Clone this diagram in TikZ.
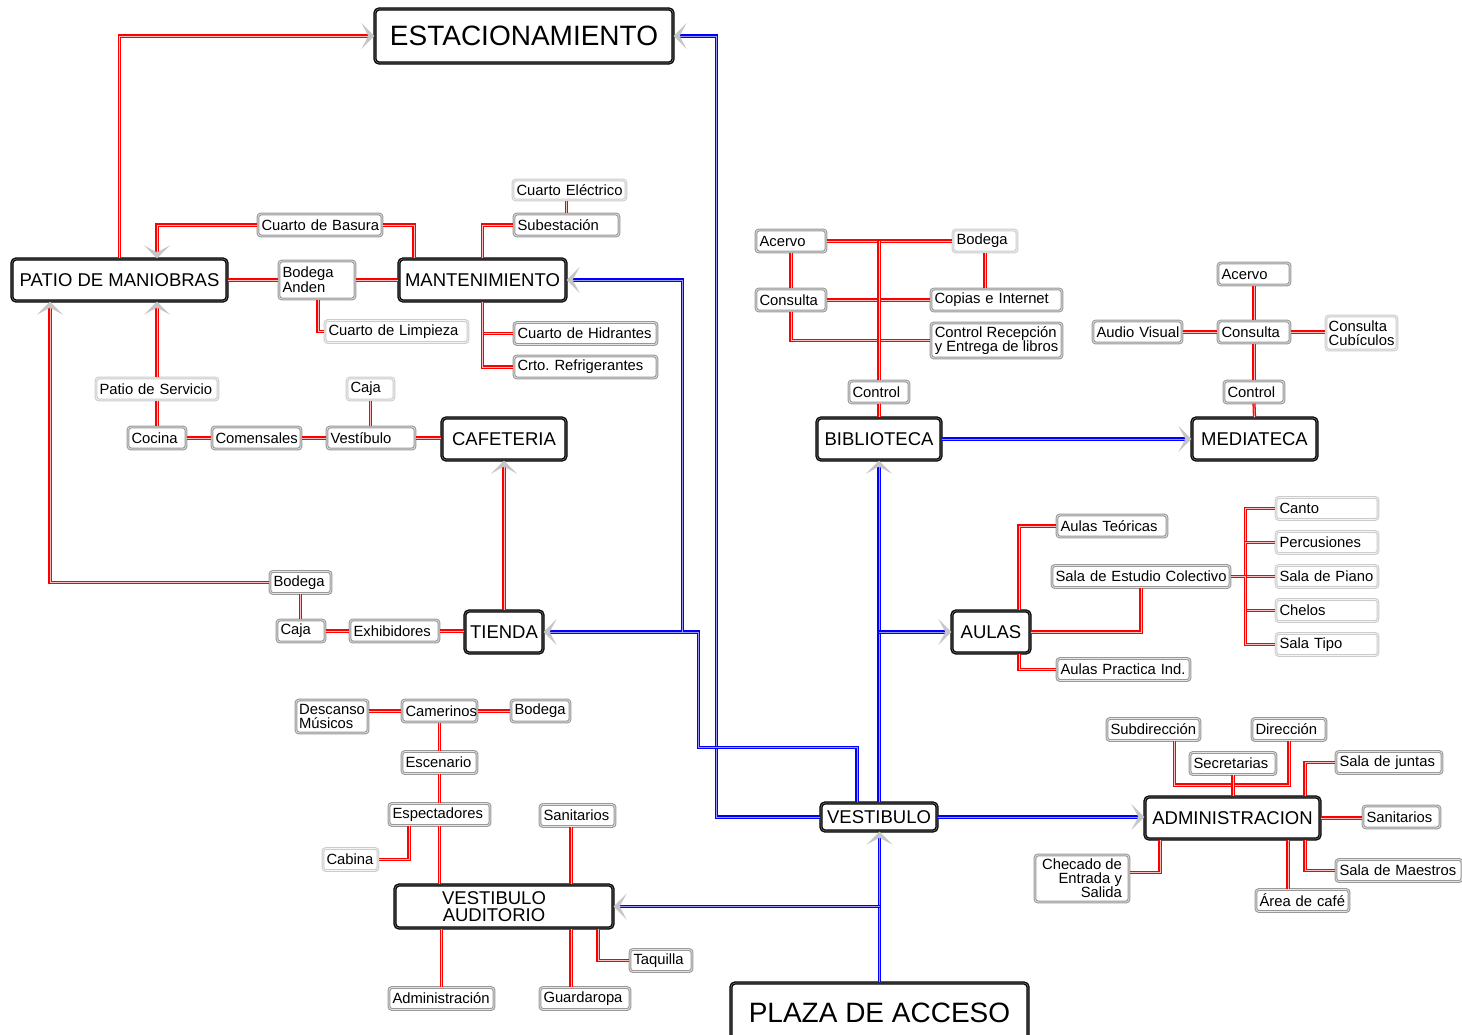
\documentclass[tikz,border=0pt]{standalone}
\usepackage{fontspec}
\setmainfont{Liberation Sans}
\usetikzlibrary{arrows.meta,calc}

\tikzset{
  mainbox/.style={draw=black,line width=1.3pt,double=black!50,double distance=0.6pt,rounded corners=4pt,fill=white,inner sep=2pt,minimum height=42pt,font=\fontsize{18.5}{17}\selectfont},
  bigbox/.style={mainbox,font=\fontsize{28}{30}\selectfont},
  subbox/.style={draw=gray!80,line width=1.1pt,double=gray!20,double distance=0.7pt,rounded corners=3pt,fill=white,inner sep=1.5pt,minimum height=22pt,font=\fontsize{14.8}{13.5}\selectfont},
  palebox/.style={subbox,draw=gray!40,double=gray!8},
  lw/.style={minimum width=#1,text width=#1-7pt,align=left,
    execute at begin node=\hbox\bgroup,execute at end node=\egroup},
  musicbox/.style={palebox,lw=102pt},
  rl/.style={draw=red,line width=1.3pt,double=red!25,double distance=0.6pt},
  bl/.style={draw=blue,line width=1.4pt,double=blue!40,double distance=0.6pt},
  tip/.style={-{Stealth[length=13pt,width=26pt,inset=7pt,gray!45]}},
}

\begin{document}
\begin{tikzpicture}[x=1pt,y=-1pt]
\useasboundingbox (0,0) rectangle (1462,1034);

% --- main areas ---
\node[bigbox,minimum width=298pt,minimum height=54pt] (estac) at (524,36) {ESTACIONAMIENTO};
\node[mainbox,minimum width=215pt] (patio) at (119.5,280) {PATIO DE MANIOBRAS};
\node[mainbox,minimum width=167pt] (mant) at (482.5,280) {MANTENIMIENTO};
\node[mainbox,minimum width=124pt] (cafe) at (504,439) {CAFETERIA};
\node[mainbox,minimum width=78pt] (tienda) at (504,632) {TIENDA};
\node[mainbox,minimum width=124pt] (biblio) at (879,439) {BIBLIOTECA};
\node[mainbox,minimum width=125pt] (media) at (1254.5,439) {MEDIATECA};
\node[mainbox,minimum width=78pt] (aulas) at (991,632) {AULAS};
\node[mainbox,minimum width=116pt,minimum height=28pt] (vest) at (879,817) {VESTIBULO};
\node[mainbox,minimum width=175pt] (admin) at (1232.5,818) {ADMINISTRACION};
\node[mainbox,minimum width=218pt,minimum height=43pt,align=center] (audit) at (504,906.5)
  {VESTIBULO\hspace*{20pt}\\AUDITORIO\hspace*{20pt}};
\node[bigbox,minimum width=297pt,minimum height=60pt] (plaza) at (879.5,1013) {PLAZA DE ACCESO};

% --- servicio / mantenimiento ---
\node[subbox,lw=124pt] (basura) at (320,225) {Cuarto de Basura};
\node[subbox,minimum width=76pt,text width=69pt,minimum height=38pt,align=left] (anden) at (317,280) {Bodega\\Anden};
\node[palebox,lw=143pt] (limpieza) at (396.5,331.5) {Cuarto de Limpieza};
\node[palebox,lw=113pt,minimum height=20pt] (elec) at (569.5,190) {Cuarto Eléctrico};
\node[subbox,lw=105pt] (subest) at (566.5,225) {Subestación};
\node[subbox,lw=143pt] (hidr) at (585.5,333.5) {Cuarto de Hidrantes};
\node[subbox,lw=143pt] (refr) at (585.5,367) {Crto.\ Refrigerantes};

% --- cafeteria / tienda ---
\node[palebox,lw=122pt] (servicio) at (157,389) {Patio de Servicio};
\node[palebox,lw=47pt] (cajac) at (370.5,389) {Caja};
\node[subbox,lw=58pt] (cocina) at (157,438) {Cocina};
\node[subbox,lw=89pt] (comens) at (256.5,438) {Comensales};
\node[subbox,lw=88pt] (vestib) at (371,438) {Vestíbulo};
\node[subbox,lw=61pt] (bodegat) at (300.5,582.5) {Bodega};
\node[subbox,lw=48pt] (cajat) at (301,631) {Caja};
\node[subbox,lw=89pt] (exhib) at (394.5,631) {Exhibidores};

% --- biblioteca ---
\node[subbox,lw=70pt] (acervob) at (791,241) {Acervo};
\node[palebox,lw=64pt] (bodegab) at (985,241) {Bodega};
\node[subbox,lw=70pt] (consultab) at (791,300) {Consulta};
\node[subbox,lw=131pt] (copias) at (996.5,300) {Copias e Internet};
\node[subbox,minimum width=131pt,minimum height=35pt,align=left] (recep) at (996.5,340.5) {Control Recepción\\y Entrega de libros};
\node[subbox,lw=60pt] (controlb) at (879,392) {Control};

% --- mediateca ---
\node[subbox,lw=72pt] (acervom) at (1254,274) {Acervo};
\node[subbox,lw=89pt] (audio) at (1137.5,332) {Audio Visual};
\node[subbox,lw=72pt] (consultam) at (1254,332) {Consulta};
\node[palebox,minimum width=71pt,minimum height=34pt,align=left] (cubic) at (1361.5,333) {Consulta\\Cubículos};
\node[subbox,lw=60pt] (controlm) at (1254,392) {Control};

% --- aulas ---
\node[subbox,lw=110pt] (teoricas) at (1112,526) {Aulas Teóricas};
\node[subbox,lw=178pt] (estudio) at (1141,576.5) {Sala de Estudio Colectivo};
\node[subbox,lw=133pt] (practica) at (1123.5,669.5) {Aulas Practica Ind.};
\node[musicbox] (canto) at (1327,508.5) {Canto};
\node[musicbox] (perc) at (1327,542.5) {Percusiones};
\node[musicbox] (piano) at (1327,576.5) {Sala de Piano};
\node[musicbox] (chelos) at (1327,610.5) {Chelos};
\node[musicbox] (stipo) at (1327,644.5) {Sala Tipo};

% --- auditorio ---
\node[subbox,minimum width=72pt,minimum height=33pt,align=left] (descanso) at (332,716.5) {Descanso\\Músicos};
\node[subbox,lw=75pt] (camer) at (439.5,711) {Camerinos};
\node[subbox,lw=59pt] (bodegaa) at (540.5,711) {Bodega};
\node[subbox,lw=75pt] (escen) at (439.5,762.5) {Escenario};
\node[subbox,lw=101pt] (espect) at (439.5,814.5) {Espectadores};
\node[subbox,lw=75pt] (sanita) at (577.5,815.5) {Sanitarios};
\node[palebox,lw=55pt] (cabina) at (350.5,859.5) {Cabina};
\node[subbox,lw=105pt] (adminaud) at (441.5,998.5) {Administración};
\node[subbox,lw=90pt] (guard) at (585,998.5) {Guardaropa};
\node[subbox,lw=62pt] (taquilla) at (661,960.5) {Taquilla};

% --- administracion ---
\node[subbox,lw=93pt] (subdir) at (1153.5,729.5) {Subdirección};
\node[subbox,lw=74pt] (direc) at (1289,729.5) {Dirección};
\node[subbox,lw=86pt] (secre) at (1233,763.5) {Secretarias};
\node[subbox,lw=106pt] (juntas) at (1389,762.5) {Sala de juntas};
\node[subbox,lw=77pt] (sanadm) at (1401.5,817) {Sanitarios};
\node[subbox,lw=126pt] (maestros) at (1399,870.5) {Sala de Maestros};
\node[subbox,lw=93pt] (cafeadm) at (1302.5,900.5) {Área de café};
\node[subbox,minimum width=94pt,minimum height=47pt,align=right] (checado) at (1082,878.5) {Checado de\\Entrada y\\Salida};

% --- red links ---
\draw[rl,tip] (patio.north) |- (estac.west);
\draw[rl,tip] (basura.west) -| ([xshift=37.5]patio.north);
\draw[rl] (basura.east) -| ([xshift=-68.5]mant.north);
\draw[rl] (patio.east) -- (anden.west);
\draw[rl] (anden.east) -- (mant.west);
\draw[rl] ([xshift=1]anden.south) |- (limpieza.west);
\draw[rl] (mant.north) |- (subest.west);
\draw[rl] (subest.north) -- (subest.north |- elec.south);
\draw[rl] (mant.south) |- (hidr.west);
\draw[rl] (mant.south) |- (refr.west);

\draw[rl,tip] (servicio.north) -- (servicio.north |- patio.south);
\draw[rl] (servicio.south) -- (cocina.north);
\draw[rl] (cocina.east) -- (comens.west);
\draw[rl] (comens.east) -- (vestib.west);
\draw[rl] (vestib.east) -- (vestib.east -| cafe.west);
\draw[rl] (cajac.south) -- (cajac.south |- vestib.north);
\draw[rl,tip] (tienda.north) -- (cafe.south);
\draw[rl,tip] (bodegat.west) -| ([xshift=-69.5]patio.south);
\draw[rl] (bodegat.south) -- (bodegat.south |- cajat.north);
\draw[rl] (cajat.east) -- (exhib.west);
\draw[rl] (exhib.east) -- (exhib.east -| tienda.west);

\draw[rl] (acervob.east) -- (bodegab.west);
\draw[rl] (consultab.east) -- (copias.west);
\draw[rl] (acervob.south) -- (consultab.north);
\draw[rl] (bodegab.south) -- (bodegab.south |- copias.north);
\draw[rl] (consultab.south) |- (recep.west);
\draw[rl] (controlb.north) -- (controlb.north |- acervob.east);
\draw[rl] (controlb.south) -- (biblio.north);

\draw[rl] (acervom.south) -- (consultam.north);
\draw[rl] (audio.east) -- (consultam.west);
\draw[rl] (consultam.east) -- (consultam.east -| cubic.west);
\draw[rl] (consultam.south) -- (controlm.north);
\draw[rl] (controlm.south) -- (media.north);

\draw[rl] ([xshift=28]aulas.north) |- (teoricas.west);
\draw[rl] ([xshift=28]aulas.south) |- (practica.west);
\draw[rl] (aulas.east) -| (estudio.south);
\foreach \m in {canto,perc,piano,chelos,stipo}
  \draw[rl] (estudio.east) -- ++(15,0) |- (\m.west);

\draw[rl] (descanso.east |- camer.west) -- (camer.west);
\draw[rl] (camer.east) -- (bodegaa.west);
\draw[rl] (camer.south) -- (escen.north);
\draw[rl] (escen.south) -- (espect.north);
\draw[rl] (espect.south) -- (espect.south |- audit.north);
\draw[rl] ([xshift=-30.5]espect.south) |- (cabina.east);
\draw[rl] ([xshift=-6.5]sanita.south) -- ([xshift=-6.5]sanita.south |- audit.north);
\draw[rl] (adminaud.north) -- (adminaud.north |- audit.south);
\draw[rl] ([xshift=-14]guard.north) -- ([xshift=-14]guard.north |- audit.south);
\draw[rl] ([xshift=94]audit.south) |- (taquilla.west);

\draw[rl] ([xshift=21]subdir.south) -- ++(0,44) -| (direc.south);
\draw[rl] (secre.south) -- (secre.south |- admin.north);
\draw[rl] ([xshift=72.5]admin.north) |- (juntas.west);
\draw[rl] (admin.east) -- (admin.east -| sanadm.west);
\draw[rl] ([xshift=72.5]admin.south) |- (maestros.west);
\draw[rl] ([xshift=-14.5]cafeadm.north) -- ([xshift=-14.5]cafeadm.north |- admin.south);
\draw[rl] ([xshift=-72.5]admin.south) |- ([yshift=6]checado.east);

% --- blue circulation ---
\coordinate (tj) at ([xshift=155]tienda.east);
\draw[bl,tip] (vest.west) -- ++(-104,0) |- (estac.east);
\draw[bl,tip] ([xshift=-22]vest.north) -- ++(0,-55) -| (tj) -- (tienda.east);
\draw[bl,tip] ([xshift=-16]tj) |- (mant.east);
\draw[bl,tip] (vest.north) -- (biblio.south);
\draw[bl,tip] (vest.north |- aulas.west) -- (aulas.west);
\draw[bl,tip] (biblio.east) -- (media.west);
\draw[bl,tip] (vest.east) -- (vest.east -| admin.west);
\draw[bl,tip] (plaza.north) -- (plaza.north |- vest.south);
\draw[bl,tip] (plaza.north |- audit.east) -- (audit.east);

\end{tikzpicture}
\end{document}
